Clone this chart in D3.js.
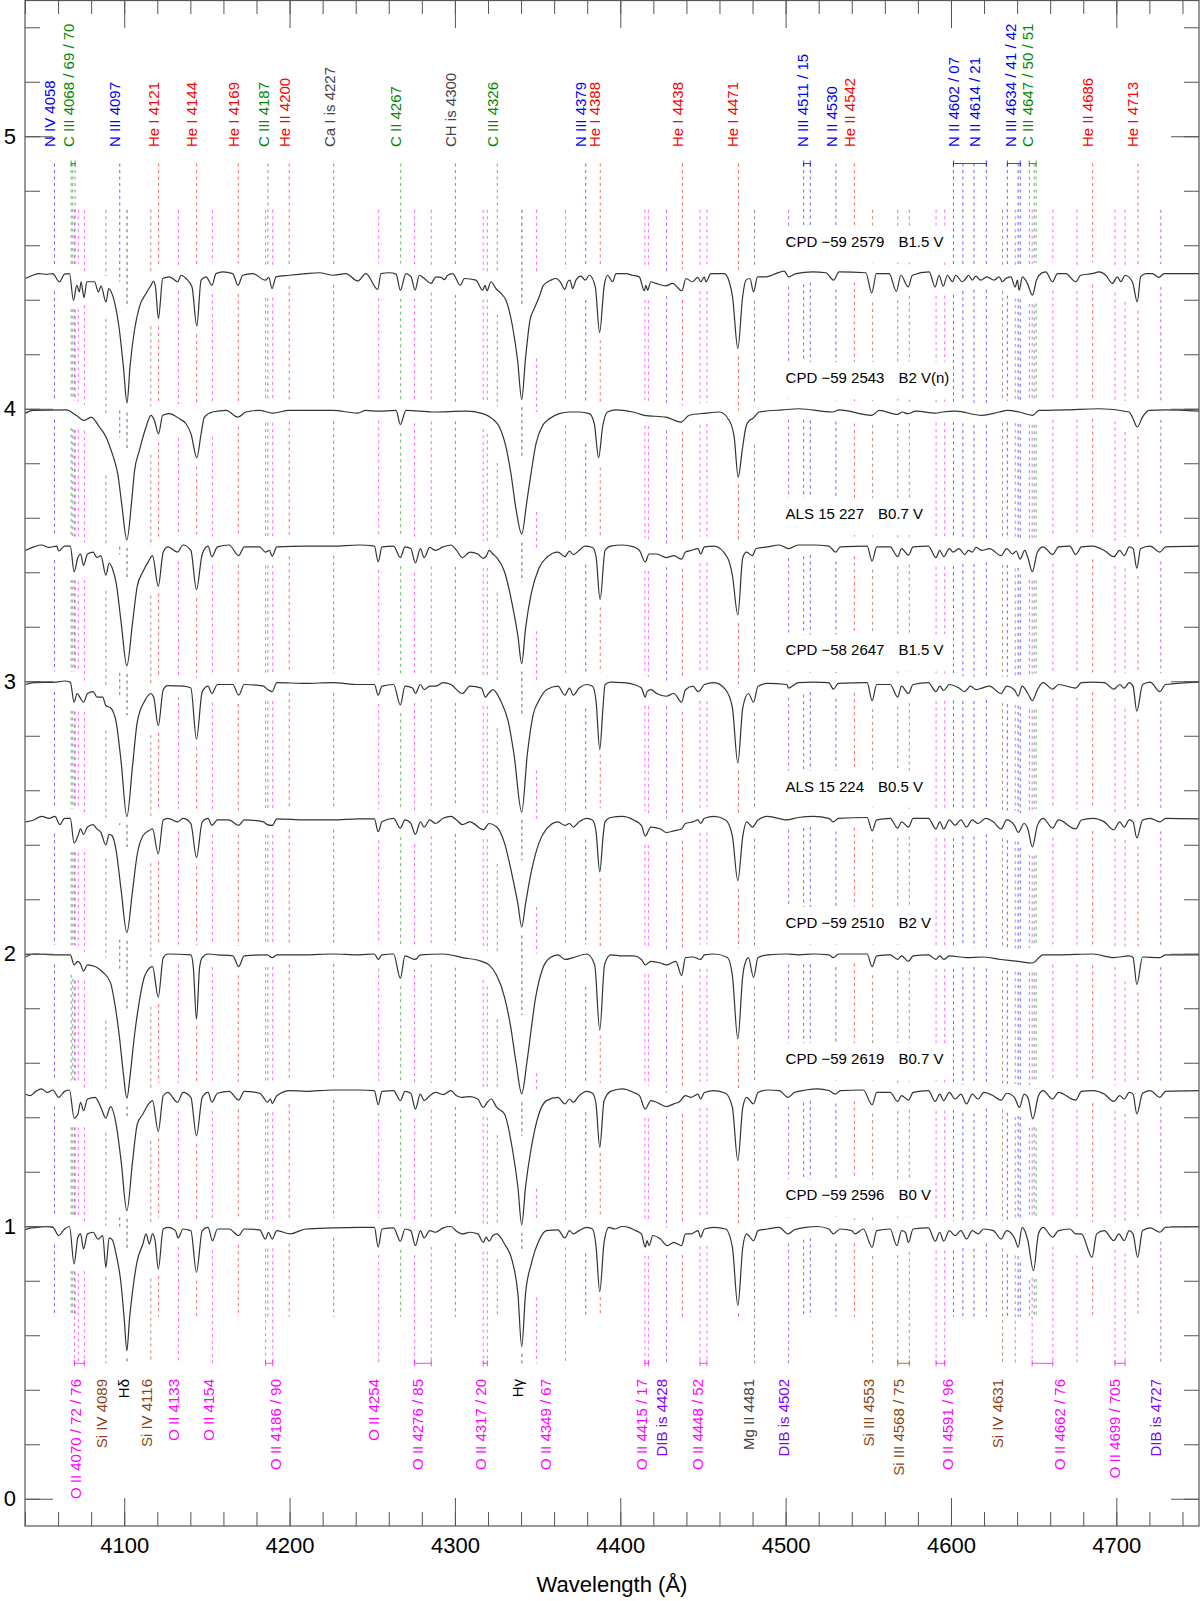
<!DOCTYPE html>
<html>
<head>
<meta charset="utf-8">
<script src="https://cdn.jsdelivr.net/npm/d3@7"></script>
<style>
body { margin: 0; background: #fff; }
svg { display: block; font-family: "Liberation Sans", Arial, Helvetica, sans-serif; }
</style>
</head>
<body>
<div id="chart"></div>
<script>
// stars, top to bottom, with their vertical offsets (normalized flux + offset)
var starNames = ["CPD \u221259 2579", "CPD \u221259 2543", "ALS 15 227", "CPD \u221258 2647",
                 "ALS 15 224", "CPD \u221259 2510", "CPD \u221259 2619", "CPD \u221259 2596"];
var spTypes = ["B1.5 V", "B2 V(n)", "B0.7 V", "B1.5 V", "B0.5 V", "B2 V", "B0.7 V", "B0 V"];
var offsets = [3.5, 3.0, 2.5, 2.0, 1.5, 1.0, 0.5, 0.0];

// spectra: [wavelength (A), normalized flux]
var spec1 = [[4040.3,0.978],[4044.7,0.990],[4048.7,0.996],[4052.8,0.993],[4056.8,0.996],[4060.8,0.966],[4063.9,0.994],[4066.9,0.996],[4069.3,0.898],[4071.3,0.953],[4072.9,0.929],[4073.9,0.966],[4075.7,0.908],[4077.4,0.966],[4082.0,0.966],[4084.4,0.929],[4086.0,0.950],[4089.0,0.892],[4090.6,0.941],[4094.1,0.892],[4097.1,0.788],[4099.5,0.654],[4101.7,0.521],[4103.5,0.654],[4106.2,0.788],[4109.2,0.874],[4113.2,0.923],[4116.2,0.953],[4117.7,0.968],[4118.9,0.947],[4120.7,0.831],[4123.3,0.978],[4127.3,0.984],[4129.3,0.978],[4132.4,0.966],[4134.4,0.990],[4137.4,0.978],[4141.0,0.947],[4143.9,0.803],[4146.5,0.972],[4149.5,0.984],[4153.1,0.953],[4155.5,0.996],[4159.6,1.002],[4165.6,0.996],[4168.8,0.953],[4171.7,0.990],[4177.7,0.996],[4185.4,0.972],[4187.4,0.982],[4189.4,0.941],[4191.8,0.984],[4199.9,0.990],[4210.0,0.996],[4218.0,0.999],[4226.5,0.990],[4234.1,0.996],[4241.2,0.969],[4246.2,0.996],[4253.3,0.938],[4255.3,0.996],[4260.3,0.999],[4264.4,0.994],[4267.0,0.935],[4270.4,0.996],[4273.5,0.984],[4275.9,0.935],[4278.5,0.990],[4281.5,0.978],[4285.5,0.960],[4288.6,0.984],[4291.6,0.982],[4293.6,0.974],[4295.6,0.990],[4298.6,0.996],[4303.3,0.953],[4305.7,0.978],[4312.7,0.972],[4316.8,0.935],[4318.2,0.953],[4319.4,0.933],[4321.8,0.966],[4324.8,0.941],[4327.9,0.923],[4330.9,0.898],[4334.9,0.800],[4337.9,0.678],[4340.4,0.534],[4342.6,0.678],[4345.4,0.825],[4348.0,0.868],[4351.0,0.911],[4353.5,0.953],[4358.1,0.972],[4361.1,0.978],[4363.7,0.966],[4366.5,0.938],[4368.2,0.966],[4369.6,0.972],[4371.2,0.941],[4373.2,0.972],[4376.2,0.987],[4378.8,0.972],[4381.3,0.990],[4384.9,0.947],[4387.5,0.780],[4390.3,0.953],[4392.3,0.990],[4395.4,0.966],[4397.4,0.996],[4403.4,0.996],[4407.5,0.990],[4411.5,0.984],[4414.5,0.933],[4415.5,0.953],[4416.5,0.935],[4418.5,0.966],[4421.6,0.960],[4427.6,0.951],[4431.6,0.960],[4437.3,0.933],[4439.7,0.978],[4443.7,0.966],[4446.8,0.982],[4448.8,0.966],[4450.8,0.984],[4451.8,0.966],[4454.8,0.996],[4462.9,0.996],[4465.9,0.966],[4467.9,0.911],[4471.1,0.721],[4474.0,0.911],[4476.0,0.972],[4478.4,0.978],[4480.6,0.929],[4483.0,0.984],[4488.1,0.984],[4494.1,0.996],[4499.2,1.005],[4501.8,0.984],[4506.2,0.996],[4516.3,1.002],[4524.3,0.999],[4529.0,0.972],[4532.4,1.002],[4548.5,0.999],[4552.1,0.925],[4554.9,0.996],[4562.6,0.996],[4567.0,0.931],[4569.7,0.990],[4574.1,0.947],[4576.7,0.990],[4586.8,1.002],[4590.4,0.947],[4592.8,0.990],[4595.3,0.950],[4597.9,0.990],[4600.9,0.966],[4602.9,0.990],[4606.9,0.966],[4609.0,0.978],[4610.6,0.990],[4613.0,0.972],[4615.0,0.987],[4618.0,0.972],[4621.7,0.984],[4626.1,0.972],[4629.1,0.984],[4631.1,0.966],[4633.1,0.978],[4636.2,0.984],[4638.8,0.947],[4640.2,0.972],[4641.2,0.935],[4643.2,0.984],[4646.2,0.960],[4649.3,0.917],[4651.7,0.972],[4653.3,0.990],[4657.3,1.002],[4661.4,0.966],[4664.4,0.996],[4669.4,0.996],[4675.5,0.966],[4678.5,0.990],[4685.5,0.996],[4689.6,1.002],[4693.6,0.990],[4697.6,0.960],[4700.6,0.984],[4702.7,0.966],[4705.3,0.990],[4709.7,0.966],[4712.7,0.892],[4714.7,0.984],[4717.8,0.996],[4721.8,0.996],[4725.8,0.982],[4728.9,0.996],[4750.0,0.996]];

var spec2 = [[4040.3,0.984],[4044.7,0.994],[4064.9,0.996],[4070.9,0.976],[4075.9,0.957],[4080.0,0.969],[4085.0,0.933],[4089.0,0.896],[4092.1,0.847],[4094.1,0.810],[4096.1,0.761],[4098.5,0.650],[4101.6,0.519],[4104.5,0.660],[4106.2,0.770],[4109.2,0.847],[4113.2,0.933],[4116.2,0.976],[4118.3,0.957],[4120.7,0.908],[4123.3,0.976],[4127.3,0.982],[4133.4,0.963],[4137.4,0.945],[4140.4,0.908],[4143.9,0.820],[4146.5,0.908],[4148.5,0.969],[4153.5,0.988],[4161.6,0.994],[4168.8,0.969],[4173.7,0.988],[4181.7,0.994],[4189.8,0.984],[4199.9,0.994],[4226.1,0.994],[4241.2,0.984],[4246.2,0.994],[4253.3,0.991],[4264.4,0.994],[4267.0,0.942],[4270.4,0.994],[4286.5,0.988],[4306.7,0.991],[4316.8,0.982],[4322.8,0.963],[4326.9,0.933],[4330.9,0.859],[4333.9,0.761],[4337.0,0.630],[4340.4,0.540],[4343.5,0.660],[4346.0,0.761],[4349.0,0.871],[4353.1,0.939],[4357.1,0.963],[4363.1,0.982],[4369.2,0.988],[4375.2,0.988],[4381.3,0.982],[4384.3,0.945],[4386.9,0.820],[4389.3,0.933],[4392.3,0.988],[4397.4,0.996],[4407.5,0.988],[4414.5,0.976],[4427.6,0.969],[4436.7,0.951],[4441.7,0.976],[4451.8,0.984],[4459.9,0.988],[4465.9,0.957],[4468.9,0.896],[4471.3,0.749],[4473.8,0.850],[4476.0,0.933],[4478.0,0.957],[4480.0,0.963],[4484.0,0.988],[4498.1,0.996],[4508.2,1.000],[4528.4,0.988],[4532.4,0.996],[4552.1,0.976],[4556.6,0.994],[4567.6,0.979],[4570.7,0.988],[4573.7,0.982],[4578.7,0.991],[4590.8,0.984],[4594.9,0.988],[4602.9,0.991],[4618.6,0.976],[4629.1,0.988],[4634.1,0.994],[4641.2,0.988],[4649.3,0.976],[4653.3,0.994],[4669.4,0.996],[4689.6,1.000],[4707.7,0.988],[4709.7,0.969],[4712.7,0.933],[4715.8,0.969],[4719.8,0.994],[4729.9,0.996],[4750.0,0.991]];

var spec3 = [[4040.3,0.980],[4045.4,0.993],[4050.0,1.000],[4054.6,0.991],[4059.2,0.996],[4060.4,0.978],[4063.9,0.996],[4067.4,0.996],[4069.7,0.902],[4072.0,0.954],[4073.6,0.967],[4075.4,0.925],[4077.8,0.967],[4081.2,0.974],[4083.5,0.954],[4085.9,0.961],[4088.9,0.889],[4090.9,0.934],[4092.8,0.915],[4095.1,0.862],[4098.1,0.718],[4101.6,0.557],[4105.1,0.718],[4107.9,0.849],[4111.3,0.902],[4114.8,0.941],[4117.1,0.961],[4120.6,0.849],[4123.6,0.974],[4126.4,0.993],[4132.2,0.974],[4135.6,1.000],[4140.3,0.980],[4143.7,0.836],[4147.2,0.967],[4150.7,0.996],[4153.0,0.957],[4156.4,0.993],[4163.4,1.000],[4169.2,0.961],[4172.6,0.993],[4181.9,0.993],[4185.4,0.974],[4187.7,0.980],[4189.5,0.959],[4192.3,0.993],[4209.7,0.996],[4225.8,0.996],[4242.0,1.000],[4251.3,0.996],[4253.6,0.938],[4255.9,0.993],[4262.9,0.996],[4267.0,0.954],[4269.8,0.993],[4273.3,0.987],[4276.1,0.934],[4279.1,0.987],[4281.4,0.954],[4284.8,0.991],[4288.3,0.980],[4292.9,0.993],[4297.6,1.000],[4301.0,0.980],[4304.5,0.954],[4309.1,0.974],[4313.8,0.967],[4317.2,0.951],[4319.1,0.961],[4320.7,0.980],[4323.0,0.967],[4325.3,0.954],[4330.0,0.902],[4334.6,0.784],[4338.1,0.666],[4340.4,0.565],[4342.7,0.692],[4346.2,0.823],[4350.8,0.915],[4355.4,0.954],[4362.3,0.974],[4366.5,0.957],[4369.3,0.978],[4371.6,0.965],[4375.1,0.980],[4378.6,0.996],[4383.2,0.991],[4385.3,0.960],[4387.8,0.800],[4390.8,0.980],[4394.2,0.996],[4401.2,1.000],[4408.1,0.993],[4411.6,0.980],[4415.1,0.938],[4417.4,0.967],[4422.0,0.967],[4427.8,0.954],[4432.4,0.961],[4437.1,0.948],[4439.4,0.974],[4442.8,0.980],[4447.0,0.987],[4448.6,0.967],[4450.9,0.993],[4456.7,0.996],[4464.8,0.954],[4467.8,0.889],[4471.1,0.744],[4474.1,0.954],[4476.4,0.974],[4479.9,0.961],[4482.2,0.987],[4489.1,0.993],[4496.1,1.000],[4501.8,0.987],[4507.6,1.000],[4516.9,1.000],[4526.1,0.996],[4530.3,0.974],[4533.1,0.993],[4549.3,0.996],[4552.3,0.941],[4555.1,0.993],[4563.2,0.993],[4567.8,0.957],[4570.1,0.987],[4574.3,0.963],[4577.1,0.993],[4586.3,0.996],[4590.9,0.954],[4593.2,0.980],[4595.6,0.957],[4599.0,0.987],[4601.3,0.974],[4604.8,0.987],[4608.3,0.965],[4610.6,0.980],[4612.9,0.974],[4615.2,0.991],[4618.7,0.980],[4623.3,0.987],[4630.3,0.961],[4633.7,0.987],[4637.2,0.967],[4639.5,0.978],[4641.8,0.948],[4644.6,0.980],[4646.5,0.954],[4649.2,0.902],[4652.3,0.974],[4655.7,0.993],[4661.5,0.965],[4665.0,0.993],[4671.9,0.996],[4675.4,0.965],[4678.9,0.993],[4685.8,0.996],[4692.7,0.980],[4698.5,0.957],[4702.0,0.980],[4704.8,0.961],[4707.8,0.993],[4710.1,0.987],[4712.4,0.915],[4714.7,0.987],[4720.5,0.996],[4726.3,0.974],[4729.8,0.993],[4750.0,0.996]];

var spec4 = [[4040.3,0.988],[4045.4,0.995],[4059.2,0.997],[4063.9,1.001],[4067.4,0.997],[4069.7,0.923],[4071.5,0.955],[4073.1,0.942],[4075.4,0.923],[4077.8,0.955],[4081.2,0.962],[4083.5,0.942],[4087.0,0.942],[4088.9,0.910],[4091.7,0.903],[4095.1,0.851],[4098.1,0.706],[4101.6,0.503],[4105.1,0.693],[4107.9,0.851],[4112.5,0.929],[4116.0,0.955],[4117.8,0.942],[4120.6,0.837],[4123.6,0.969],[4126.4,0.984],[4135.6,0.982],[4140.3,0.975],[4143.7,0.788],[4147.2,0.962],[4150.7,0.982],[4153.0,0.955],[4156.4,0.988],[4165.7,0.988],[4169.2,0.949],[4172.6,0.988],[4184.2,0.982],[4186.5,0.971],[4189.5,0.962],[4192.3,0.995],[4209.7,0.992],[4225.8,0.995],[4242.0,0.988],[4251.3,0.988],[4253.6,0.949],[4255.9,0.982],[4262.9,0.988],[4267.0,0.913],[4269.8,0.982],[4274.4,0.975],[4276.1,0.955],[4279.1,0.988],[4281.4,0.969],[4284.8,0.982],[4288.3,0.982],[4292.9,0.995],[4297.6,0.988],[4304.5,0.955],[4309.1,0.982],[4316.1,0.975],[4318.4,0.942],[4320.3,0.955],[4323.0,0.969],[4327.6,0.929],[4332.3,0.851],[4335.7,0.733],[4340.4,0.520],[4343.8,0.733],[4347.3,0.877],[4350.8,0.929],[4355.4,0.969],[4362.3,0.982],[4366.5,0.949],[4369.3,0.975],[4371.6,0.949],[4375.1,0.975],[4379.8,0.988],[4383.2,0.982],[4385.3,0.930],[4387.6,0.750],[4389.5,0.900],[4390.8,0.988],[4394.2,0.997],[4401.2,0.995],[4408.1,0.988],[4412.8,0.975],[4415.1,0.942],[4416.2,0.962],[4418.5,0.969],[4422.0,0.955],[4427.8,0.945],[4432.4,0.955],[4437.1,0.923],[4439.4,0.969],[4444.0,0.982],[4447.0,0.962],[4448.6,0.969],[4450.9,0.988],[4456.7,0.995],[4463.7,0.969],[4467.8,0.903],[4471.1,0.700],[4474.1,0.903],[4477.5,0.955],[4480.6,0.923],[4483.3,0.982],[4489.1,0.992],[4500.7,0.988],[4501.8,0.975],[4507.6,0.995],[4516.9,0.997],[4526.1,0.995],[4528.9,0.971],[4531.9,0.992],[4549.3,0.995],[4552.3,0.929],[4555.1,0.988],[4563.2,0.988],[4567.8,0.942],[4570.1,0.982],[4574.3,0.955],[4577.1,0.988],[4586.3,0.995],[4590.9,0.962],[4593.2,0.982],[4595.6,0.966],[4599.0,0.988],[4604.8,0.975],[4608.3,0.962],[4611.8,0.982],[4615.2,0.969],[4618.7,0.975],[4623.3,0.982],[4630.3,0.955],[4633.7,0.982],[4638.4,0.969],[4640.7,0.945],[4643.0,0.982],[4646.5,0.955],[4649.2,0.929],[4652.3,0.969],[4655.7,0.995],[4661.5,0.971],[4665.0,0.988],[4675.4,0.975],[4678.9,0.995],[4685.8,0.997],[4692.7,0.995],[4698.5,0.971],[4702.0,0.988],[4704.8,0.975],[4707.8,0.995],[4710.1,0.982],[4712.4,0.890],[4715.9,0.988],[4720.5,0.997],[4726.3,0.962],[4729.8,0.988],[4750.0,0.997]];

var spec5 = [[4040.3,0.984],[4045.4,0.991],[4050.0,1.004],[4054.6,0.997],[4058.1,1.004],[4061.1,0.974],[4063.9,0.997],[4067.4,0.997],[4069.7,0.906],[4072.0,0.932],[4073.6,0.958],[4075.4,0.938],[4077.8,0.965],[4081.2,0.974],[4083.5,0.958],[4085.9,0.945],[4088.9,0.899],[4090.9,0.938],[4092.8,0.932],[4095.1,0.879],[4098.1,0.735],[4101.6,0.578],[4105.1,0.735],[4107.9,0.866],[4111.3,0.932],[4114.8,0.951],[4117.1,0.958],[4120.6,0.866],[4123.6,0.991],[4126.4,0.997],[4132.2,0.984],[4135.6,0.997],[4140.3,0.978],[4143.7,0.853],[4147.2,0.984],[4150.7,0.997],[4153.0,0.971],[4156.4,0.991],[4163.4,0.991],[4169.2,0.971],[4172.6,0.991],[4184.2,0.984],[4186.5,0.974],[4189.5,0.971],[4192.3,0.995],[4209.7,0.991],[4225.8,0.991],[4242.0,0.995],[4251.3,0.995],[4253.6,0.948],[4255.9,0.984],[4262.9,0.997],[4267.0,0.961],[4269.8,0.991],[4273.3,0.978],[4276.1,0.938],[4279.1,0.984],[4281.4,0.965],[4284.8,0.991],[4288.3,0.978],[4292.9,0.997],[4297.6,1.004],[4301.0,0.991],[4304.5,0.974],[4309.1,0.984],[4317.2,0.955],[4320.7,0.978],[4325.3,0.965],[4330.0,0.906],[4334.6,0.788],[4338.1,0.683],[4340.4,0.598],[4342.7,0.683],[4346.2,0.801],[4350.8,0.906],[4355.4,0.958],[4362.3,0.984],[4366.5,0.971],[4369.3,0.978],[4371.6,0.965],[4375.1,0.984],[4379.8,0.997],[4383.2,0.991],[4385.3,0.950],[4387.6,0.800],[4389.6,0.930],[4390.8,0.984],[4394.2,1.000],[4401.2,1.004],[4408.1,0.991],[4412.8,0.971],[4415.1,0.932],[4418.5,0.965],[4424.3,0.958],[4427.8,0.945],[4432.4,0.951],[4437.1,0.958],[4439.4,0.978],[4444.0,0.984],[4447.0,0.991],[4448.6,0.978],[4450.9,0.997],[4456.7,1.004],[4463.7,0.991],[4467.8,0.932],[4471.1,0.768],[4474.1,0.932],[4476.4,0.984],[4479.9,0.965],[4483.3,0.991],[4489.1,1.004],[4500.7,0.991],[4507.6,1.000],[4516.9,1.004],[4526.1,0.997],[4528.9,0.984],[4531.9,0.997],[4549.3,1.000],[4552.3,0.951],[4555.1,0.991],[4563.2,0.997],[4567.8,0.961],[4570.1,0.984],[4574.3,0.965],[4577.1,0.997],[4586.3,0.997],[4590.9,0.958],[4593.2,0.984],[4595.6,0.958],[4599.0,0.991],[4602.5,0.971],[4606.0,0.991],[4609.4,0.965],[4612.9,0.991],[4616.4,0.978],[4621.0,0.997],[4625.6,0.984],[4630.3,0.958],[4633.7,0.991],[4638.4,0.971],[4640.7,0.945],[4644.2,0.978],[4646.5,0.958],[4649.2,0.892],[4652.3,0.971],[4655.7,0.997],[4661.5,0.961],[4665.0,0.991],[4675.4,0.958],[4678.9,0.991],[4685.8,0.997],[4692.7,0.984],[4698.5,0.955],[4702.0,0.984],[4704.8,0.965],[4707.8,0.991],[4710.1,0.984],[4712.4,0.925],[4715.9,0.991],[4720.5,0.997],[4726.3,0.984],[4729.8,0.997],[4750.0,0.995]];

var spec6 = [[4040.3,0.988],[4045.4,0.999],[4059.2,0.996],[4067.4,0.996],[4069.7,0.959],[4072.0,0.972],[4073.6,0.962],[4075.4,0.936],[4077.8,0.959],[4082.4,0.953],[4087.0,0.933],[4091.7,0.894],[4094.0,0.828],[4097.0,0.700],[4099.5,0.560],[4101.6,0.470],[4103.7,0.560],[4106.2,0.700],[4109.0,0.820],[4112.5,0.920],[4117.1,0.953],[4120.6,0.841],[4123.6,0.986],[4126.4,0.999],[4140.3,0.996],[4141.8,0.950],[4143.7,0.760],[4145.6,0.950],[4147.2,0.986],[4150.7,0.999],[4156.4,0.996],[4165.7,0.992],[4169.2,0.953],[4172.6,0.992],[4186.5,0.996],[4189.5,0.986],[4192.3,0.996],[4209.7,0.996],[4225.8,0.999],[4242.0,0.996],[4251.3,0.999],[4253.6,0.979],[4255.9,0.996],[4262.9,0.999],[4267.0,0.910],[4269.8,0.992],[4276.1,0.979],[4279.1,0.996],[4292.9,0.999],[4304.5,0.986],[4316.1,0.972],[4320.7,0.959],[4325.3,0.920],[4330.0,0.841],[4333.5,0.740],[4337.0,0.600],[4340.4,0.486],[4343.5,0.600],[4346.5,0.740],[4348.5,0.828],[4353.1,0.946],[4357.7,0.986],[4362.3,0.996],[4366.5,0.979],[4371.6,0.986],[4379.8,0.999],[4384.5,0.960],[4387.6,0.720],[4390.5,0.960],[4394.2,0.996],[4401.2,0.992],[4408.1,0.992],[4412.8,0.979],[4415.1,0.959],[4418.5,0.972],[4424.3,0.966],[4427.8,0.959],[4433.6,0.972],[4437.1,0.920],[4439.4,0.986],[4444.0,0.988],[4448.6,0.979],[4450.9,0.996],[4456.7,0.999],[4464.8,0.986],[4467.8,0.920],[4471.1,0.688],[4474.1,0.920],[4475.2,0.959],[4477.5,0.986],[4480.6,0.913],[4483.3,0.986],[4489.1,0.996],[4500.7,0.999],[4507.6,0.996],[4516.9,0.999],[4526.1,0.996],[4528.9,0.986],[4531.9,0.999],[4549.3,0.999],[4552.3,0.953],[4555.1,0.992],[4563.2,0.996],[4567.8,0.979],[4570.1,0.992],[4574.3,0.972],[4577.1,0.992],[4586.3,0.996],[4590.9,0.979],[4593.2,0.992],[4595.6,0.979],[4599.0,0.992],[4609.4,0.986],[4618.7,0.988],[4630.3,0.979],[4640.7,0.972],[4649.2,0.966],[4655.7,0.996],[4665.0,0.996],[4685.8,0.999],[4698.5,0.986],[4707.8,0.992],[4710.1,0.986],[4712.4,0.887],[4715.9,0.988],[4726.3,0.986],[4729.8,0.996],[4750.0,0.996]];

var spec7 = [[4040.3,0.985],[4043.0,0.979],[4046.5,0.995],[4050.0,1.004],[4053.5,0.991],[4056.9,1.000],[4060.4,0.973],[4063.9,0.995],[4066.9,1.000],[4069.7,0.897],[4072.0,0.912],[4073.6,0.955],[4075.4,0.924],[4077.8,0.967],[4082.4,0.973],[4085.9,0.936],[4088.9,0.897],[4091.7,0.939],[4095.1,0.875],[4098.1,0.741],[4101.6,0.557],[4105.1,0.741],[4107.9,0.875],[4111.3,0.912],[4114.8,0.949],[4117.1,0.961],[4120.6,0.848],[4123.6,0.979],[4126.4,0.991],[4132.2,0.955],[4135.6,0.991],[4140.3,0.973],[4143.7,0.832],[4147.2,0.973],[4150.7,0.991],[4153.0,0.955],[4156.4,0.988],[4163.4,0.995],[4169.2,0.963],[4172.6,0.995],[4181.9,0.988],[4184.2,0.973],[4186.5,0.955],[4188.4,0.967],[4189.5,0.951],[4192.3,0.979],[4200.4,0.998],[4209.7,0.995],[4225.8,1.000],[4242.0,1.000],[4251.3,0.998],[4253.6,0.946],[4255.9,0.995],[4262.9,0.998],[4267.0,0.961],[4269.8,0.995],[4273.3,0.988],[4276.1,0.930],[4279.1,0.985],[4281.4,0.961],[4284.8,0.979],[4288.3,0.991],[4292.9,0.983],[4297.6,0.998],[4301.0,0.979],[4304.5,0.973],[4309.1,0.976],[4313.8,0.967],[4317.2,0.936],[4319.6,0.955],[4321.9,0.967],[4325.3,0.936],[4330.0,0.912],[4334.6,0.789],[4338.1,0.643],[4340.4,0.505],[4342.7,0.643],[4346.2,0.789],[4350.8,0.912],[4355.4,0.961],[4362.3,0.973],[4366.5,0.949],[4369.3,0.967],[4371.6,0.955],[4375.1,0.979],[4379.8,0.995],[4383.2,0.988],[4385.3,0.950],[4387.6,0.790],[4390.2,0.960],[4394.2,0.995],[4401.2,1.004],[4408.1,0.991],[4411.6,0.979],[4415.1,0.930],[4418.5,0.961],[4422.0,0.955],[4427.8,0.939],[4432.4,0.949],[4435.9,0.958],[4439.4,0.979],[4442.8,0.973],[4447.0,0.985],[4448.6,0.967],[4450.9,0.991],[4456.7,0.998],[4463.7,0.988],[4467.8,0.936],[4471.1,0.741],[4474.1,0.936],[4476.4,0.973],[4480.6,0.949],[4483.3,0.991],[4489.1,1.000],[4496.1,0.998],[4501.4,0.973],[4505.3,0.991],[4512.3,1.000],[4519.2,1.004],[4526.1,0.998],[4530.1,0.985],[4533.1,0.998],[4547.0,1.000],[4552.3,0.946],[4555.1,0.991],[4563.2,0.991],[4567.8,0.958],[4570.1,0.979],[4574.3,0.963],[4577.1,0.991],[4586.3,0.998],[4590.5,0.958],[4593.2,0.985],[4595.6,0.961],[4599.0,0.991],[4602.5,0.967],[4606.0,0.985],[4609.4,0.949],[4612.9,0.985],[4616.4,0.967],[4619.9,0.991],[4625.6,0.979],[4630.3,0.963],[4633.7,0.988],[4638.4,0.973],[4641.4,0.936],[4644.2,0.985],[4646.5,0.973],[4649.5,0.894],[4652.9,0.979],[4655.7,0.998],[4661.5,0.967],[4665.0,0.991],[4675.4,0.963],[4678.9,0.995],[4685.8,0.998],[4692.7,0.985],[4698.5,0.958],[4702.0,0.979],[4704.8,0.967],[4707.8,0.991],[4710.1,0.985],[4712.4,0.912],[4715.9,0.988],[4720.5,0.998],[4726.3,0.973],[4729.8,0.995],[4750.0,0.998]];

var spec8 = [[4040.3,0.987],[4043.0,0.993],[4047.7,0.996],[4052.3,0.999],[4056.9,0.996],[4060.4,0.966],[4063.9,0.990],[4066.9,0.999],[4069.7,0.862],[4072.0,0.960],[4073.6,0.972],[4075.4,0.917],[4077.8,0.972],[4081.2,0.978],[4084.2,0.953],[4087.0,0.966],[4088.9,0.849],[4090.9,0.957],[4092.8,0.950],[4095.1,0.898],[4098.1,0.788],[4100.0,0.660],[4101.6,0.543],[4103.2,0.660],[4105.1,0.764],[4107.9,0.874],[4111.3,0.935],[4113.2,0.972],[4115.2,0.935],[4117.1,0.972],[4118.7,0.947],[4120.6,0.843],[4123.6,0.990],[4126.4,0.996],[4131.0,0.984],[4132.6,0.957],[4135.6,0.990],[4140.3,0.984],[4143.7,0.831],[4147.2,0.984],[4150.7,0.996],[4153.4,0.947],[4156.4,0.990],[4163.4,0.990],[4169.2,0.966],[4172.6,0.990],[4181.9,0.987],[4185.4,0.953],[4187.2,0.978],[4189.5,0.953],[4192.3,0.984],[4200.4,0.972],[4209.7,0.990],[4225.8,0.994],[4242.0,0.996],[4251.3,0.996],[4253.6,0.923],[4255.9,0.990],[4262.9,0.994],[4267.0,0.945],[4269.8,0.990],[4273.3,0.984],[4276.1,0.929],[4279.1,0.984],[4281.4,0.957],[4284.8,0.984],[4288.3,0.978],[4292.9,0.994],[4297.6,0.999],[4301.0,0.982],[4304.5,0.972],[4309.1,0.978],[4313.8,0.972],[4317.2,0.941],[4318.9,0.960],[4320.7,0.945],[4323.0,0.966],[4325.3,0.972],[4330.0,0.935],[4334.6,0.874],[4338.1,0.752],[4340.4,0.558],[4342.7,0.752],[4346.2,0.862],[4350.8,0.947],[4355.4,0.984],[4362.3,0.987],[4366.5,0.957],[4369.3,0.984],[4371.6,0.972],[4375.1,0.984],[4379.8,0.996],[4383.2,0.990],[4385.3,0.930],[4387.6,0.760],[4390.2,0.940],[4393.1,0.996],[4396.6,0.990],[4401.2,0.999],[4405.8,0.994],[4409.3,0.984],[4412.8,0.972],[4415.1,0.923],[4416.2,0.947],[4417.4,0.929],[4419.7,0.966],[4424.3,0.953],[4428.5,0.929],[4432.4,0.941],[4437.1,0.929],[4439.4,0.972],[4442.8,0.972],[4447.0,0.984],[4448.6,0.960],[4450.9,0.990],[4456.7,0.996],[4463.7,0.990],[4467.8,0.923],[4471.1,0.709],[4474.1,0.923],[4476.4,0.972],[4480.6,0.947],[4483.3,0.984],[4489.1,0.990],[4496.1,0.996],[4501.4,0.972],[4505.3,0.987],[4512.3,0.996],[4519.2,0.999],[4526.1,0.990],[4528.9,0.972],[4533.1,0.990],[4540.0,0.984],[4541.9,0.972],[4547.0,0.990],[4552.3,0.923],[4555.1,0.984],[4563.2,0.990],[4567.3,0.929],[4570.1,0.984],[4572.4,0.978],[4574.3,0.941],[4577.1,0.990],[4586.3,0.994],[4590.5,0.945],[4593.2,0.978],[4595.6,0.945],[4599.0,0.984],[4602.5,0.966],[4606.0,0.984],[4609.4,0.953],[4612.9,0.984],[4616.4,0.972],[4619.9,0.990],[4625.6,0.984],[4630.3,0.953],[4633.7,0.984],[4638.4,0.957],[4640.7,0.923],[4643.0,0.996],[4644.6,0.984],[4646.5,0.947],[4649.9,0.837],[4652.9,0.972],[4655.7,0.996],[4661.5,0.960],[4665.0,0.984],[4671.9,0.990],[4675.4,0.972],[4678.9,0.972],[4685.3,0.886],[4688.1,0.972],[4692.7,0.984],[4698.5,0.947],[4701.5,0.972],[4704.8,0.947],[4707.8,0.984],[4710.1,0.972],[4712.9,0.886],[4715.9,0.984],[4720.5,0.994],[4726.3,0.978],[4729.8,0.996],[4750.0,0.999]];

var spectra = [spec1, spec2, spec3, spec4, spec5, spec6, spec7, spec8];

// lines identified above the spectra
var topLabels = ["N IV 4058", "C III 4068 / 69 / 70", "N III 4097", "He I 4121", "He I 4144", "He I 4169",
  "C III 4187", "He II 4200", "Ca I is 4227", "C II 4267", "CH is 4300", "C III 4326", "N III 4379",
  "He I 4388", "He I 4438", "He I 4471", "N III 4511 / 15", "N II 4530", "He II 4542", "N II 4602 / 07",
  "N II 4614 / 21", "N III 4634 / 41 / 42", "C III 4647 / 50 / 51", "He II 4686", "He I 4713"];
var topWaves = [[4057.8], [4067.9, 4068.9, 4070.3], [4097.3], [4120.8], [4143.8], [4169.0],
  [4186.9], [4199.8], [4226.7], [4267.2], [4300.3], [4325.6], [4379.1],
  [4387.9], [4437.6], [4471.5], [4510.9, 4514.9], [4530.4], [4541.6], [4601.5, 4607.2],
  [4613.9, 4621.4], [4634.1, 4640.6, 4641.9], [4647.4, 4650.3, 4651.5], [4685.7], [4713.1]];
var topLabelAt = [4058.1, 4069.7, 4097.4, 4121.0, 4144.2, 4169.7, 4187.7, 4200.4, 4227.5, 4267.5,
  4300.4, 4326.1, 4379.0, 4387.6, 4437.7, 4471.0, 4513.4, 4530.8, 4541.7, 4604.8, 4617.5, 4639.1,
  4649.9, 4685.8, 4713.1];
var topKind = ["N", "C", "N", "He", "He", "He", "C", "He", "is", "C", "is", "C", "N",
  "He", "He", "He", "N", "N", "He", "N", "N", "N", "C", "He", "He"];
var topBrackets = [[4067.9, 4070.3, "C"], [4510.9, 4514.9, "N"], [4601.5, 4621.4, "N"],
  [4634.1, 4641.9, "N"], [4647.4, 4651.5, "C"]];

// lines identified below the spectra
var botLabels = ["O II 4070 / 72 / 76", "Si IV 4089", "H\u03b4", "Si IV 4116", "O II 4133", "O II 4154",
  "O II 4186 / 90", "O II 4254", "O II 4276 / 85", "O II 4317 / 20", "H\u03b3", "O II 4349 / 67",
  "O II 4415 / 17", "DIB is 4428", "O II 4448 / 52", "Mg II 4481", "DIB is 4502", "Si III 4553",
  "Si III 4568 / 75", "O II 4591 / 96", "Si IV 4631", "O II 4662 / 76", "O II 4699 / 705", "DIB is 4727"];
var botWaves = [[4069.9, 4072.2, 4075.9], [4088.9], [4101.7], [4116.1], [4132.8], [4153.3],
  [4185.5, 4189.8], [4253.9], [4275.6, 4285.7], [4317.1, 4319.6], [4340.5], [4349.4, 4366.9],
  [4414.9, 4417.0], [4428.0], [4448.2, 4452.4], [4481.2], [4501.8], [4552.6],
  [4567.8, 4574.8], [4591.0, 4596.2], [4631.2], [4638.9, 4649.1, 4661.6, 4676.2], [4699.2, 4705.3], [4726.9]];
var botLabelAt = [4073.6, 4089.8, 4102.8, 4116.6, 4133.3, 4154.6, 4194.6, 4254.3, 4280.9, 4318.9,
  4341.1, 4358.2, 4416.2, 4428.5, 4450.3, 4481.0, 4501.8, 4553.5, 4571.7, 4601.4, 4631.4, 4669.1,
  4702.4, 4727.0];
var botKind = ["O", "Si", "H", "Si", "O", "O", "O", "O", "O", "O", "H", "O",
  "O", "DIB", "O", "Mg", "DIB", "Si", "Si", "O", "Si", "O", "O", "DIB"];
var botBrackets = [[4069.9, 4075.9, "O"], [4185.5, 4189.8, "O"], [4275.6, 4285.7, "O"],
  [4317.1, 4319.6, "O"], [4414.9, 4417.0, "O"], [4448.2, 4452.4, "O"], [4567.8, 4574.8, "Si"],
  [4591.0, 4596.2, "O"], [4649.1, 4661.6, "O"], [4699.2, 4705.3, "O"]];

// axis ticks
var xMajor = [4100, 4200, 4300, 4400, 4500, 4600, 4700];
var xMinor = d3.range(4040, 4750, 20);
var yMajor = [0, 1, 2, 3, 4, 5];
var yMinor = d3.range(0, 5.5, 0.2);

var kindColor = { N: "#0000ff", C: "#008a00", He: "#ff0000", is: "#444444", Mg: "#444444",
  O: "#ff00ff", Si: "#8b4513", H: "#000000", DIB: "#8000ff" };

var svgWidth = 1200, svgHeight = 1601;
var margin = { left: 25, right: 1, top: 0, bottom: 75 };
var x = d3.scaleLinear().domain([4040, 4750]).range([margin.left, svgWidth - margin.right]);
var y = d3.scaleLinear().domain([-0.1, 5.5]).range([svgHeight - margin.bottom, margin.top]);

var svg = d3.select("#chart").append("svg")
  .attr("width", svgWidth)
  .attr("height", svgHeight);

svg.append("rect").attr("width", svgWidth).attr("height", svgHeight).attr("fill", "#fff");

// marker extents (flux units)
var topStart = 4.90, topEnd = 0.668, botStart = 4.73, botEnd = 0.497;

function fluxAt(spec, lam) {
  if (lam <= spec[0][0]) return spec[0][1];
  for (var i = 1; i < spec.length; i++) {
    if (lam <= spec[i][0]) {
      var a = spec[i - 1], b = spec[i];
      return a[1] + (b[1] - a[1]) * (lam - a[0]) / (b[0] - a[0]);
    }
  }
  return spec[spec.length - 1][1];
}

// pieces of a marker that do not cross any spectrum
function markerSegments(lam, top, bottom) {
  var gaps = spectra.map(function(s, i) {
    var lo = 1e9, hi = -1e9;
    for (var d = -6; d <= 6; d += 0.5) {
      var v = offsets[i] + fluxAt(s, lam + d);
      lo = Math.min(lo, v); hi = Math.max(hi, v);
    }
    return [lo - 0.035, hi + 0.035];
  }).sort(function(a, b) { return b[1] - a[1]; });
  var segs = [], cur = top;
  gaps.forEach(function(g) {
    if (g[1] < cur && g[1] > bottom) segs.push([cur, g[1]]);
    cur = Math.min(cur, g[0]);
  });
  if (cur > bottom) segs.push([cur, bottom]);
  return segs;
}

var markerGroup = svg.append("g").attr("class", "markers");

function drawMarkers(wavesList, kinds, top, bottom) {
  wavesList.forEach(function(waves, k) {
    var col = kindColor[kinds[k]];
    waves.forEach(function(lam) {
      markerSegments(lam, top, bottom).forEach(function(seg) {
        markerGroup.append("line")
          .attr("x1", x(lam)).attr("x2", x(lam))
          .attr("y1", y(seg[0])).attr("y2", y(seg[1]))
          .attr("stroke", col)
          .attr("stroke-width", 1)
          .attr("stroke-dasharray", "3,3.5")
          .attr("opacity", 0.6);
      });
    });
  });
}

function drawBrackets(list, level) {
  var yb = y(level);
  list.forEach(function(b) {
    var col = kindColor[b[2]], x0 = x(b[0]), x1 = x(b[1]);
    markerGroup.append("line").attr("x1", x0).attr("x2", x1).attr("y1", yb).attr("y2", yb)
      .attr("stroke", col).attr("opacity", 0.75);
    [x0, x1].forEach(function(xx) {
      markerGroup.append("line").attr("x1", xx).attr("x2", xx).attr("y1", yb - 3).attr("y2", yb + 3)
        .attr("stroke", col).attr("opacity", 0.75);
    });
  });
}

drawMarkers(topWaves, topKind, topStart, topEnd);
drawMarkers(botWaves, botKind, botStart, botEnd);
drawBrackets(topBrackets, topStart);
drawBrackets(botBrackets, botEnd);

// star names and spectral types, on a white patch
offsets.forEach(function(o, i) {
  var g = svg.append("g");
  var t = g.append("text")
    .attr("x", x(4500))
    .attr("y", y(o + 1.095))
    .attr("font-size", 15)
    .attr("fill", "#000");
  t.append("tspan").text(starNames[i]);
  t.append("tspan").attr("dx", 14).text(spTypes[i]);
  var bb = t.node().getBBox();
  g.insert("rect", "text")
    .attr("x", bb.x - 3).attr("y", y(o + 1.095) - 21)
    .attr("width", bb.width + 6).attr("height", 37)
    .attr("fill", "#fff");
});

// spectra
var line = d3.line().curve(d3.curveMonotoneX);
spectra.forEach(function(s, i) {
  line.x(function(d) { return x(d[0]); }).y(function(d) { return y(d[1] + offsets[i]); });
  svg.append("path")
    .datum(s)
    .attr("d", line)
    .attr("fill", "none")
    .attr("stroke", "#333")
    .attr("stroke-width", 1.2);
});

// line identifications
var labelFont = 15;
topLabels.forEach(function(lab, k) {
  svg.append("text")
    .attr("transform", "translate(" + x(topLabelAt[k]) + ",147) rotate(-90)")
    .attr("font-size", labelFont)
    .attr("fill", kindColor[topKind[k]])
    .attr("text-anchor", "start")
    .text(lab);
});
botLabels.forEach(function(lab, k) {
  svg.append("text")
    .attr("transform", "translate(" + x(botLabelAt[k]) + ",1379) rotate(-90)")
    .attr("font-size", labelFont)
    .attr("fill", kindColor[botKind[k]])
    .attr("text-anchor", "end")
    .text(lab);
});

// axes
var axisColor = "#555";
function styleAxis(g) {
  g.select(".domain").remove();
  g.selectAll("line").attr("stroke", axisColor);
  g.selectAll("text").attr("fill", "#000").style("font-size", "22px")
    .style("font-family", "'Liberation Sans', Arial, Helvetica, sans-serif");
}
var yBottom = y(-0.1), yTop = y(5.5);
svg.append("g").attr("transform", "translate(0," + yBottom + ")")
  .call(d3.axisBottom(x).tickValues(xMajor).tickSize(-28).tickPadding(11).tickFormat(d3.format("d")))
  .call(styleAxis);
svg.append("g").attr("transform", "translate(0," + yBottom + ")")
  .call(d3.axisBottom(x).tickValues(xMinor).tickSize(-14).tickFormat(""))
  .call(styleAxis);
svg.append("g").attr("transform", "translate(0," + yTop + ")")
  .call(d3.axisTop(x).tickValues(xMajor).tickSize(-28).tickFormat(""))
  .call(styleAxis);
svg.append("g").attr("transform", "translate(0," + yTop + ")")
  .call(d3.axisTop(x).tickValues(xMinor).tickSize(-14).tickFormat(""))
  .call(styleAxis);
svg.append("g").attr("transform", "translate(" + x(4040) + ",0)")
  .call(d3.axisLeft(y).tickValues(yMajor).tickSize(-28).tickPadding(9).tickFormat(d3.format("d")))
  .call(styleAxis);
svg.append("g").attr("transform", "translate(" + x(4040) + ",0)")
  .call(d3.axisLeft(y).tickValues(yMinor).tickSize(-15).tickFormat(""))
  .call(styleAxis);
svg.append("g").attr("transform", "translate(" + x(4750) + ",0)")
  .call(d3.axisRight(y).tickValues(yMajor).tickSize(-28).tickFormat(""))
  .call(styleAxis);
svg.append("g").attr("transform", "translate(" + x(4750) + ",0)")
  .call(d3.axisRight(y).tickValues(yMinor).tickSize(-15).tickFormat(""))
  .call(styleAxis);

// frame
svg.append("rect")
  .attr("x", x(4040)).attr("y", yTop + 0.5)
  .attr("width", x(4750) - x(4040)).attr("height", yBottom - yTop - 0.5)
  .attr("fill", "none")
  .attr("stroke", axisColor)
  .attr("stroke-width", 1.2);

svg.append("text")
  .attr("x", (x(4040) + x(4750)) / 2)
  .attr("y", 1592)
  .attr("text-anchor", "middle")
  .attr("font-size", 22)
  .text("Wavelength (\u00c5)");
</script>
</body>
</html>
